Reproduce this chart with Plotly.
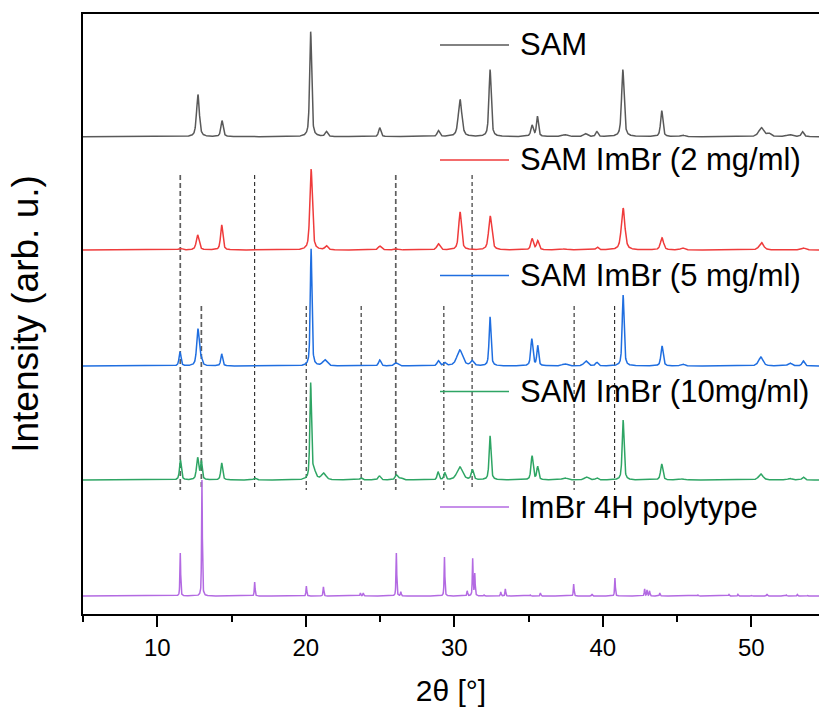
import numpy as np
import plotly.graph_objects as go

# ---------------- data ----------------
series_names = ["SAM", "SAM ImBr (2 mg/ml)", "SAM ImBr (5 mg/ml)",
                "SAM ImBr (10mg/ml)", "ImBr 4H polytype"]
series_colors = ["#595959", "#ef3b3b", "#1f6ee0", "#2ea564", "#b36ae2"]
series_offsets = [477.3, 364.0, 248.0, 134.0, 18.0]

# peaks: (2theta, height, fwhm)
sam_peaks = [(12.74, 42, 0.22), (14.36, 16, 0.18), (20.33, 105, 0.16), (21.39, 5, 0.2),
             (24.98, 9, 0.18), (28.93, 6, 0.2), (30.39, 37, 0.28), (32.41, 67, 0.18),
             (35.24, 11, 0.2), (35.60, 20, 0.16), (37.44, 2, 0.4), (38.83, 3, 0.3),
             (39.60, 5, 0.18), (41.35, 67, 0.2), (43.97, 26, 0.18), (45.37, 1.5, 0.3),
             (50.68, 9, 0.4), (51.20, 3, 0.3), (52.59, 2, 0.4), (53.45, 5, 0.2)]
imbr2_peaks = [(11.56, 1.5, 0.3), (12.72, 15, 0.22), (14.34, 25, 0.18), (20.36, 81, 0.2),
               (21.39, 4, 0.22), (24.98, 4, 0.25), (26.10, 1, 0.3), (28.93, 6, 0.25),
               (30.39, 38, 0.22), (32.42, 34, 0.25), (35.24, 11, 0.2), (35.62, 9, 0.2),
               (37.44, 1, 0.4), (39.62, 3, 0.2), (41.37, 42, 0.28), (43.99, 12, 0.25),
               (45.37, 2, 0.3), (50.68, 7.5, 0.35), (53.50, 2, 0.3)]
imbr5_peaks = [(11.53, 14, 0.15), (12.74, 37, 0.2), (12.97, 6, 0.15), (14.34, 12, 0.15),
               (20.36, 117, 0.13), (21.28, 6, 0.35), (24.98, 6, 0.18), (26.08, 3, 0.3),
               (28.93, 5, 0.2), (29.36, 3, 0.2), (30.37, 16, 0.45), (31.20, 5, 0.25),
               (32.41, 49, 0.15), (35.22, 27, 0.17), (35.62, 20, 0.14), (37.44, 2, 0.4),
               (38.86, 5, 0.3), (39.60, 3.5, 0.2), (41.37, 71, 0.15), (43.99, 20, 0.18),
               (45.37, 2, 0.3), (50.64, 9, 0.35), (52.60, 3, 0.3), (53.50, 5, 0.2)]
imbr10_peaks = [(11.56, 20, 0.15), (12.72, 22, 0.18), (12.97, 18, 0.13), (14.34, 17, 0.15),
                (16.58, 2, 0.2), (20.33, 95, 0.13), (20.55, 8, 0.3), (21.20, 6.5, 0.35),
                (23.73, 2, 0.2), (24.96, 4, 0.2), (26.10, 5, 0.2), (26.40, 2, 0.3),
                (28.91, 8, 0.15), (29.36, 7, 0.15), (30.37, 13, 0.45), (31.22, 10, 0.18),
                (32.41, 44, 0.15), (35.24, 24, 0.17), (35.62, 13, 0.15), (37.44, 2, 0.4),
                (38.90, 3, 0.3), (39.60, 2, 0.2), (41.37, 60, 0.15), (43.97, 16, 0.18),
                (45.37, 1, 0.3), (50.64, 6, 0.35), (52.60, 1.5, 0.3), (53.50, 3, 0.2)]
polytype_peaks = [(11.55, 43, 0.06), (13.01, 116, 0.06), (16.56, 14, 0.06), (20.04, 10, 0.06),
                  (21.19, 9, 0.06), (23.68, 3, 0.06), (23.87, 3, 0.06), (26.10, 43, 0.06),
                  (26.40, 4, 0.06), (29.34, 39, 0.06), (30.87, 5, 0.06), (31.24, 37, 0.06),
                  (31.38, 22, 0.06), (32.00, 1, 0.06), (33.13, 4, 0.06), (33.44, 7, 0.06),
                  (35.13, 1, 0.06), (35.80, 3, 0.06), (38.04, 12, 0.06), (39.28, 2, 0.06),
                  (40.82, 18, 0.06), (42.82, 7, 0.06), (42.98, 6, 0.06), (43.15, 5, 0.06),
                  (43.84, 3, 0.06), (46.42, 1, 0.06), (48.50, 1.5, 0.06), (49.10, 1.5, 0.06),
                  (50.00, 1, 0.06), (51.06, 2, 0.06), (52.37, 1, 0.06), (53.10, 1.5, 0.06),
                  (53.80, 0.5, 0.06)]
all_peaks = [sam_peaks, imbr2_peaks, imbr5_peaks, imbr10_peaks, polytype_peaks]

# reference positions (dashed markers)
ref_upper_gray = [11.55, 26.06]
ref_upper_black = [16.56, 31.20]
ref_lower_gray = [12.97]
ref_lower_black = [20.03, 23.73, 29.30, 38.07, 40.80]

x_tick_vals = [10, 20, 30, 40, 50]

# ---------------- rendering ----------------
x_min, x_max = 5.0, 54.56
Y_MAX = 600.0
two_theta = np.arange(x_min, x_max + 0.005, 0.01)


def pattern(peaks, eta=0.6):
    y = np.zeros_like(two_theta)
    for pos, h, w in peaks:
        hw = w / 2.0
        lor = hw ** 2 / ((two_theta - pos) ** 2 + hw ** 2)
        gau = np.exp(-np.log(2) * ((two_theta - pos) / hw) ** 2)
        y += h * (eta * lor + (1 - eta) * gau)
    return y


fig = go.Figure()


def vlines(xs, y0, y1, color, width, dash):
    xx, yy = [], []
    for v in xs:
        xx += [v, v, None]
        yy += [y0, y1, None]
    fig.add_trace(go.Scatter(x=xx, y=yy, mode="lines", showlegend=False,
                             hoverinfo="skip",
                             line=dict(color=color, width=width, dash=dash)))


UP_TOP, LOW_TOP, BOTTOM = 439, 308, 124
vlines(ref_upper_gray, UP_TOP, BOTTOM, "#5e5e5e", 1.7, "5px,3px")
vlines(ref_upper_black, UP_TOP, BOTTOM, "#111111", 1.0, "4px,3px")
vlines(ref_lower_gray, LOW_TOP, BOTTOM, "#5e5e5e", 1.7, "5px,3px")
vlines(ref_lower_black, LOW_TOP, BOTTOM, "#111111", 1.0, "4px,3px")

for name, color, off, peaks in zip(series_names, series_colors, series_offsets, all_peaks):
    fig.add_trace(go.Scatter(x=two_theta, y=off + pattern(peaks), mode="lines", name=name,
                             showlegend=False, line=dict(color=color, width=1.5)))

# custom legend (line sample + label), positioned in paper coordinates
W, H = 819, 709
ML, MR, MT, MB = 83, 0, 14, 95
pw, ph = W - ML - MR, H - MT - MB
legend_y_px = [45, 160, 275.5, 391.5, 507]
for name, color, ypx in zip(series_names, series_colors, legend_y_px):
    yp = (H - MB - ypx) / ph
    fig.add_shape(type="line", xref="paper", yref="paper",
                  x0=(440 - ML) / pw, x1=(509 - ML) / pw, y0=yp, y1=yp,
                  line=dict(color=color, width=1.5))
    fig.add_annotation(xref="paper", yref="paper", x=(518 - ML) / pw, y=yp,
                       text=name, showarrow=False, xanchor="left", yanchor="middle",
                       font=dict(size=31, color="black"))

fig.update_layout(
    width=W, height=H,
    margin=dict(l=ML, r=MR, t=MT, b=MB, autoexpand=False),
    plot_bgcolor="white", paper_bgcolor="white",
    font=dict(family="Liberation Sans, Arial, sans-serif", color="black"),
    showlegend=False,
)
fig.update_xaxes(range=[x_min, x_max], tickvals=x_tick_vals, ticks="outside",
                 ticklen=11, tickwidth=2, tickcolor="black",
                 minor=dict(dtick=5, tick0=5, ticks="outside", ticklen=6, tickwidth=2,
                            tickcolor="black"),
                 showline=True, linecolor="black", linewidth=2, mirror=True,
                 showgrid=False, zeroline=False,
                 tickfont=dict(size=24, color="black"),
                 title=dict(text="2θ [°]", font=dict(size=30, color="black"), standoff=20))
fig.update_yaxes(range=[0, Y_MAX], showticklabels=False, ticks="",
                 showline=True, linecolor="black", linewidth=2,
                 showgrid=False, zeroline=False,
                 title=dict(text="Intensity (arb. u.)", font=dict(size=37, color="black"),
                            standoff=31))

fig.write_html("out.html")
